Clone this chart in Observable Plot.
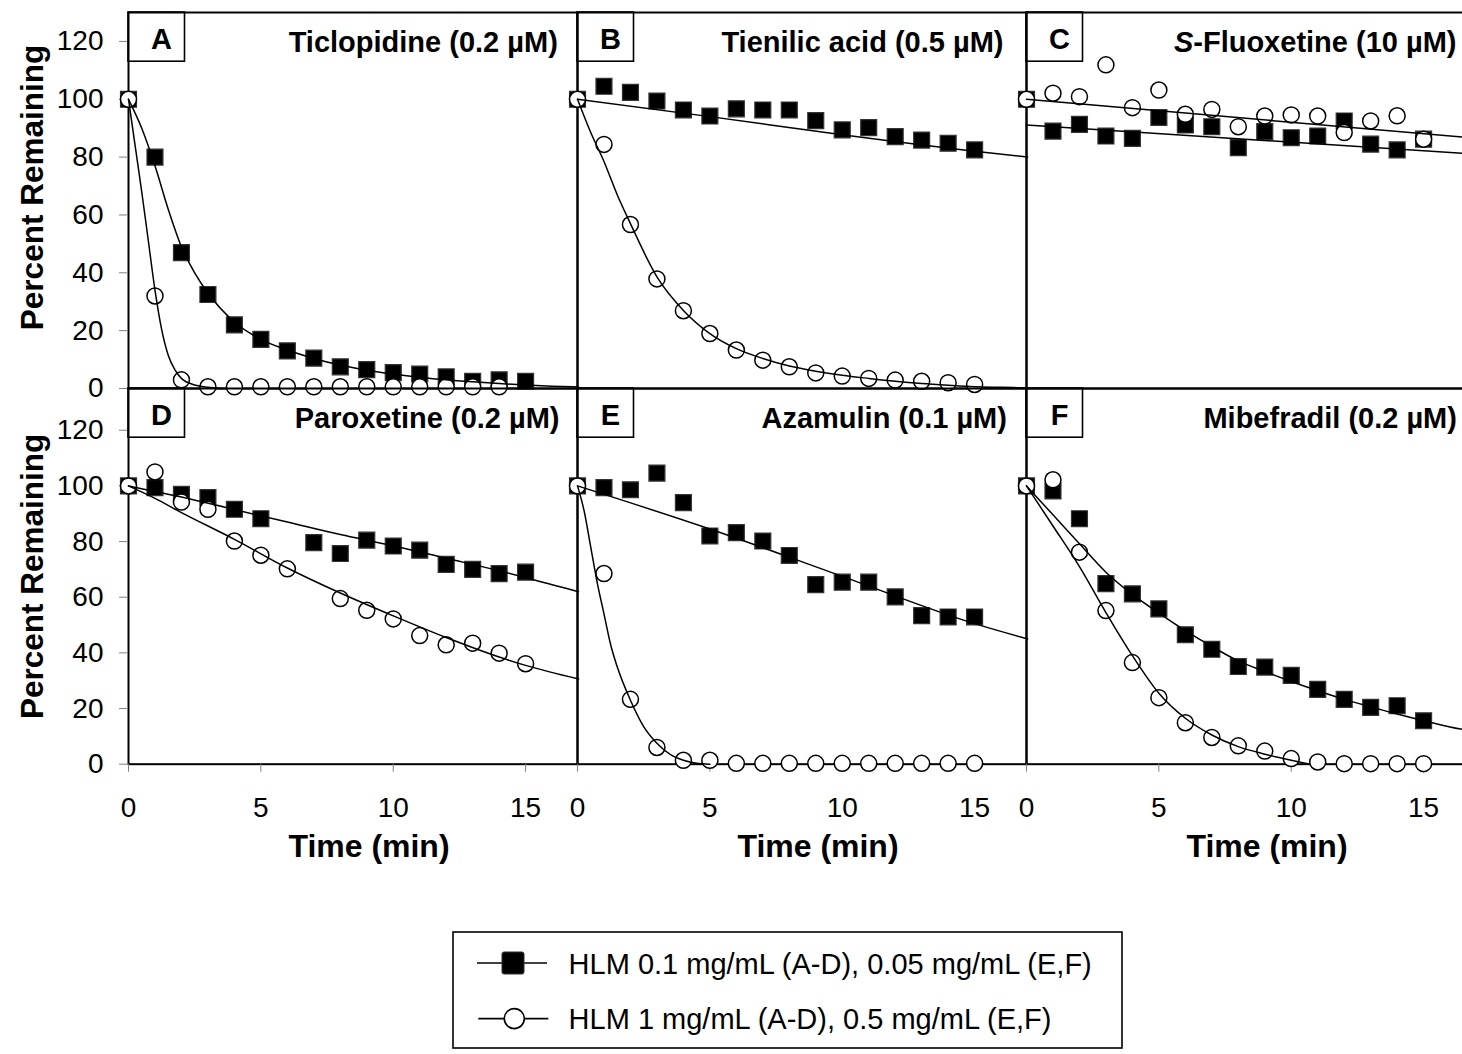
<!DOCTYPE html>
<html><head><meta charset="utf-8">
<script src="https://cdn.jsdelivr.net/npm/d3@7"></script>
<script src="https://cdn.jsdelivr.net/npm/@observablehq/plot@0.6"></script>
<style>
body{margin:0;background:#fff;}
#fig{position:relative;width:1462px;height:1054px;overflow:hidden;background:#fff;font-family:"Liberation Sans",Arial,sans-serif;}
#fig svg{position:absolute;overflow:visible;}
</style></head><body><div id="fig"></div>
<script>
// ---- data ----
const time = [0,1,2,3,4,5,6,7,8,9,10,11,12,13,14,15];
const xTicks = [0,5,10,15];
const yTicks = [0,20,40,60,80,100,120];
const letters = ["A","B","C","D","E","F"];
const titles = ["Ticlopidine (0.2 µM)","Tienilic acid (0.5 µM)","S-Fluoxetine (10 µM)","Paroxetine (0.2 µM)","Azamulin (0.1 µM)","Mibefradil (0.2 µM)"];
const legendLabels = ["HLM 0.1 mg/mL (A-D), 0.05 mg/mL (E,F)","HLM 1 mg/mL (A-D), 0.5 mg/mL (E,F)"];

const A_sq = [100,80,47,32.5,22,17,13,10.5,7.5,6.5,5.5,5,4,2.5,3,2.5];
const A_ci = [100,32,3,0.6,0.6,0.6,0.6,0.6,0.6,0.6,0.6,0.6,0.6,0.6,0.6];
const B_sq = [100,104.5,102.4,99.4,96.3,94.2,96.7,96.3,96.3,92.6,89.4,90.2,87.1,85.9,84.8,82.5];
const B_ci = [100,84.4,56.7,37.9,26.9,19,13.3,9.8,7.5,5.4,4.3,3.5,2.9,2.5,2,1.4];
const C_sq = [100,89,91.3,87.3,86.5,93.7,91.1,90.5,83.3,88.8,86.7,87.3,92.5,84.5,82.5,86.2];
const C_ci = [100,102.1,100.9,111.9,97.1,103.2,94.8,96.5,90.5,94.2,94.6,94.2,88.5,92.5,94.3,86.2];
const D_sq = [100,99.4,97,95.8,91.6,88.2,null,79.6,75.7,80.5,78.4,76.9,71.8,70,68.5,69];
const D_ci = [100,105,94.2,91.6,80.2,75.1,70.2,null,59.5,55.3,52.2,46.2,42.9,43.5,39.9,36.1];
const E_sq = [100,99.4,98.6,104.6,94,82,83.2,80.2,75,64.5,65.4,65.4,60.1,53.4,52.9,52.9];
const E_ci = [100,68.5,23.3,6,1.4,1.4,0.3,0.3,0.3,0.3,0.3,0.3,0.3,0.3,0.3,0.3];
const F_sq = [100,98.2,88.2,64.9,61.2,55.8,46.5,41.3,35.1,34.9,31.9,26.9,23.3,20.4,21,15.6];
const F_ci = [100,102.2,76.2,55.2,36.5,23.9,14.9,9.6,6.6,4.7,2,0.8,0.2,0.2,0.2,0.2];

// fitted curves, [time, percent] pairs
const A_sqFit = [[0,100],[0.5,90],[1,77],[1.5,62],[2,49],[2.5,40],[3,33],[4,23],[5,17],[6,13.3],[7,10.4],[8,8.1],[9,6.3],[10,5],[11,3.9],[12,3],[13,2.3],[14,1.7],[15,1.2],[16,0.8],[17,0.5]];
const A_ciFit = [[0,100],[0.25,84],[0.5,68],[0.75,51],[1,34],[1.25,20.5],[1.5,11.5],[1.75,6.5],[2,3.5],[2.5,1.2],[3,0.4],[3.5,0]];
const B_sqFit = [[0,100],[5,94],[10,87.7],[15,82],[17,80]];
const B_ciFit = [[0,100],[0.5,88.5],[1,78.5],[1.5,67],[2,57],[3,38.6],[4,27],[5,19],[6,13.8],[7,10.4],[8,7.8],[9,6],[10,4.6],[11,3.5],[12,2.5],[13,1.7],[14,1.1],[15,0.6],[16,0.4],[17,0.2]];
const C_sqFit = [[0,91.1],[17,81]];
const C_ciFit = [[0,100],[17,86.5]];
const D_sqFit = [[0,100],[2,96],[4,91.5],[6,87],[8,82.5],[10,78.5],[12,74],[14,69.5],[16,64.5],[17,62]];
const D_ciFit = [[0,100],[1,95.5],[2,90.4],[4,80.8],[6,70.5],[8,61.5],[10,53.3],[12,45.5],[14,38.5],[15,35.5],[17,30.6]];
const E_sqFit = [[0,100],[5,84.5],[10,67.5],[15,50.5],[17,45]];
const E_ciFit = [[0,100],[0.25,91],[0.5,78],[0.75,65],[1,54],[1.25,43],[1.5,35],[2,23],[2.5,13.5],[3,7.5],[3.5,3.5],[4,1.4],[4.5,0.3],[5,0]];
const F_sqFit = [[0,100],[1,89.6],[2,79.2],[3,69],[4,61],[5,54.3],[6,48],[7,42.3],[8,37.1],[9,33.3],[10,29.7],[11,26.4],[12,23.3],[13,20.6],[14,18],[15,15.6],[16,13.4],[17,11.5]];
const F_ciFit = [[0,100],[1,85.6],[2,71],[3,54.5],[4,39],[5,25.5],[6,16.5],[7,10.5],[8,6.3],[9,3.6],[10,1.4],[10.7,0]];

const sqSeries = [A_sq,B_sq,C_sq,D_sq,E_sq,F_sq];
const ciSeries = [A_ci,B_ci,C_ci,D_ci,E_ci,F_ci];
const sqFits = [A_sqFit,B_sqFit,C_sqFit,D_sqFit,E_sqFit,F_sqFit];
const ciFits = [A_ciFit,B_ciFit,C_ciFit,D_ciFit,E_ciFit,F_ciFit];

// ---- layout ----
const fig = document.getElementById("fig");
const FONT = "'Liberation Sans', Arial, Helvetica, sans-serif";
const colLeft = [128.3, 577.3, 1026.3];
const rowTop = [12.3, 388.3];
const rowH = [376, 375.7];
const rowMax = [130, 135];
const PW = 449;
const ML = 130, MR = 20, MT = 20, MB = 110;
const titleDx = [-19.7, -23, -19, -18, -19.6, -18.6];

function toRows(vals) {
  return vals.map((v, i) => ({t: time[i], v})).filter(d => d.v != null);
}

letters.forEach((letter, k) => {
  const row = Math.floor(k / 3), col = k % 3;
  const marks = [Plot.frame({stroke: "black", strokeWidth: 2})];
  if (col === 0) {
    marks.push(
      Plot.axisY(yTicks, {tickSize: 9, tickPadding: 16, stroke: "#808080", fill: "black", fontSize: 28, label: null}),
      Plot.text(["Percent Remaining"], {frameAnchor: "left", dx: -96, dy: row === 0 ? -13 : 0, rotate: -90,
        textAnchor: "middle", lineAnchor: "middle", fontSize: 31.5, fontWeight: "bold", fill: "black"})
    );
  }
  if (row === 1) {
    marks.push(
      Plot.axisX(xTicks, {tickSize: 8, tickPadding: 25, stroke: "#808080", fill: "black", fontSize: 28, label: null}),
      Plot.text(["Time (min)"], {frameAnchor: "bottom", dx: 16, dy: 70, lineAnchor: "top", textAnchor: "middle",
        fontSize: 32, fontWeight: "bold", fill: "black"})
    );
  }
  marks.push(
    Plot.dot(toRows(sqSeries[k]), {x: "t", y: "v", symbol: "square", r: 9, fill: "black", stroke: "#333", strokeWidth: 1.2}),
    Plot.dot(toRows(ciSeries[k]), {x: "t", y: "v", symbol: "circle", r: 8, fill: "white", stroke: "black", strokeWidth: 1.5}),
    Plot.line(sqFits[k], {x: d => d[0], y: d => d[1], curve: "monotone-x", stroke: "black", strokeWidth: 1.5}),
    Plot.line(ciFits[k], {x: d => d[0], y: d => d[1], curve: "monotone-x", stroke: "black", strokeWidth: 1.5}),
    Plot.text([titles[k]], {frameAnchor: "top-right", dx: titleDx[k], dy: 19.4, lineAnchor: "top", textAnchor: "end",
      fontSize: 29, fontWeight: "bold", fill: "black"}),
    Plot.text([letter], {frameAnchor: "top-left", dx: 33, dy: 16.3, lineAnchor: "top", textAnchor: "middle",
      fontSize: 29, fontWeight: "bold", fill: "black"})
  );
  const svg = Plot.plot({
    width: ML + PW + MR,
    height: MT + rowH[row] + MB,
    marginLeft: ML, marginRight: MR, marginTop: MT, marginBottom: MB,
    x: {domain: [0, 16.96], axis: null},
    y: {domain: [0, rowMax[row]], axis: null},
    style: {background: "transparent", overflow: "visible", fontFamily: FONT, color: "black"},
    marks
  });
  svg.style.position = "absolute";
  svg.style.left = (colLeft[col] - ML) + "px";
  svg.style.top = (rowTop[row] - MT) + "px";
  svg.style.maxWidth = "none";
  // letter box
  d3.select(svg).append("rect")
    .attr("x", ML).attr("y", MT).attr("width", 56.5).attr("height", 49.2)
    .attr("fill", "none").attr("stroke", "black").attr("stroke-width", 1.6);
  // italic S in S-Fluoxetine
  d3.select(svg).selectAll("text").each(function() {
    if (this.textContent === "S-Fluoxetine (10 µM)") {
      const t = d3.select(this);
      t.text(null);
      t.append("tspan").attr("font-style", "italic").text("S");
      t.append("tspan").text("-Fluoxetine (10 µM)");
    }
  });
  fig.appendChild(svg);
});

// ---- legend ----
const LX = 452.7, LY = 931.7, LW = 669, LH = 116;
const leg = d3.create("svg").attr("width", LW + 4).attr("height", LH + 4)
  .style("position", "absolute").style("left", (LX - 2) + "px").style("top", (LY - 2) + "px")
  .style("font-family", FONT);
const g = leg.append("g").attr("transform", "translate(2,2)");
g.append("rect").attr("width", LW).attr("height", LH).attr("fill", "white").attr("stroke", "black").attr("stroke-width", 1.6);
const rowsY = [31, 86.6];
// row 1: filled square
g.append("line").attr("x1", 24).attr("x2", 94).attr("y1", rowsY[0]).attr("y2", rowsY[0]).attr("stroke", "black").attr("stroke-width", 1.6);
g.append("rect").attr("x", 49).attr("y", rowsY[0] - 11).attr("width", 22).attr("height", 22).attr("rx", 2)
  .attr("fill", "black").attr("stroke", "#333").attr("stroke-width", 1);
// row 2: open circle
g.append("line").attr("x1", 25.3).attr("x2", 95.3).attr("y1", rowsY[1]).attr("y2", rowsY[1]).attr("stroke", "black").attr("stroke-width", 1.6);
g.append("circle").attr("cx", 61.3).attr("cy", rowsY[1]).attr("r", 10)
  .attr("fill", "white").attr("stroke", "black").attr("stroke-width", 1.6);
legendLabels.forEach((s, i) => {
  g.append("text").attr("x", 115.6).attr("y", rowsY[i] + 10.5).attr("font-size", 29).attr("fill", "black").text(s);
});
fig.appendChild(leg.node());
</script></body></html>
